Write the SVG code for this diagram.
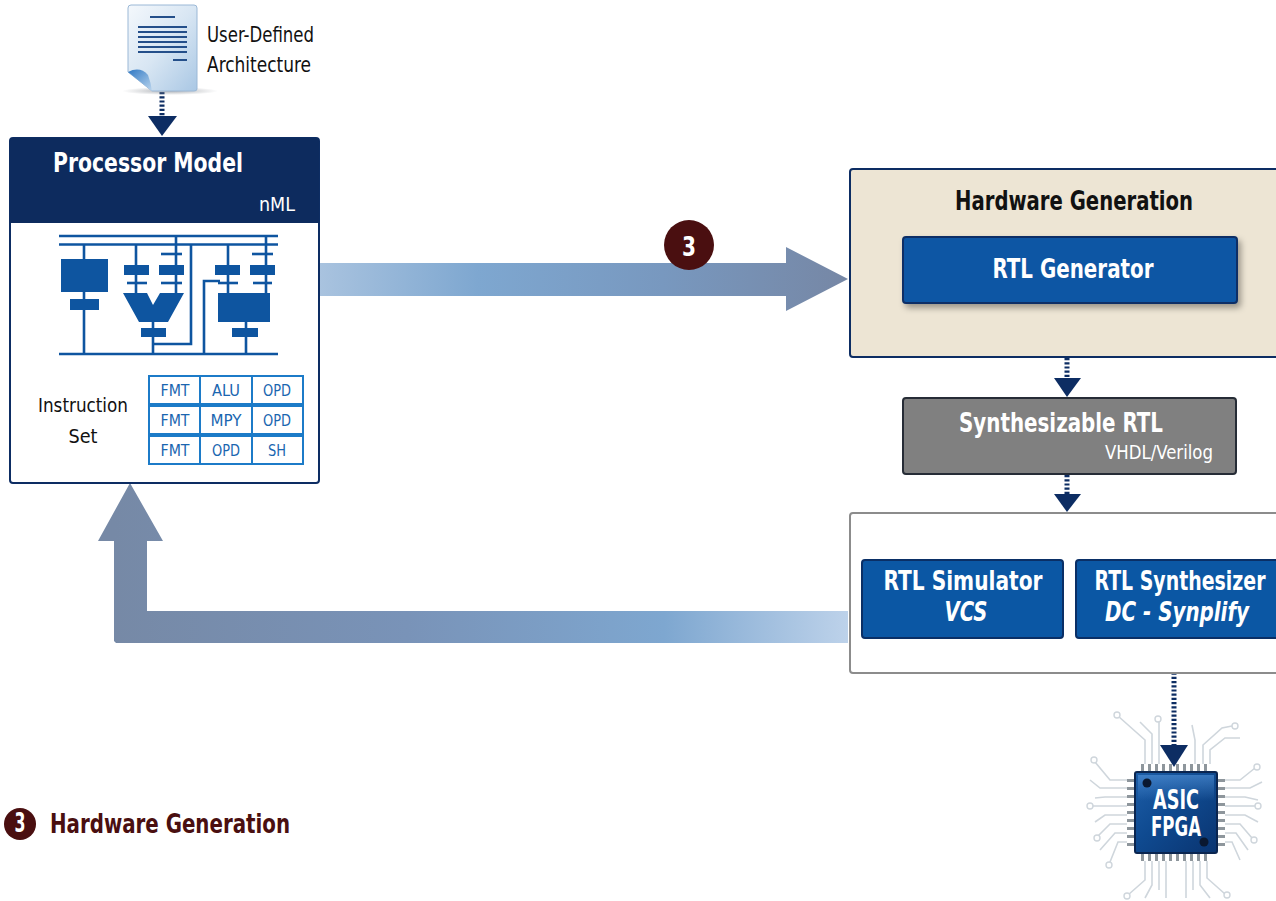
<svg xmlns="http://www.w3.org/2000/svg" width="1276" height="901" viewBox="0 0 1276 901">
  <style>
    .cond { font-family: "Liberation Sans Narrow", "DejaVu Sans Condensed", "Liberation Sans", sans-serif; }
    .title { font-family: "Liberation Sans Narrow", "DejaVu Sans Condensed", "Liberation Sans", sans-serif; font-weight: bold; font-size: 27px; }
    .white { fill: #ffffff; }
    .blk { fill: #111111; }
    .blue-box { fill: #0b57a4; stroke: #0a2f66; stroke-width: 2; }
    .circ { fill: #0e55a0; }
    .cw { stroke: #0e55a0; stroke-width: 2.6; fill: none; }
    .iset { fill: #ffffff; stroke: #1c7bc8; stroke-width: 2; }
    .isetT { font-family: "Liberation Sans Narrow", "DejaVu Sans Condensed", "Liberation Sans", sans-serif; font-size: 16px; fill: #1a66b0; text-anchor: middle; }
    .dots { stroke: #0d2d63; stroke-width: 5; stroke-dasharray: 2.2 2; fill: none; }
    .head { fill: #0d2d63; }
    .trace { stroke: #cfd6dc; stroke-width: 1.6; fill: none; }
    .tdot { fill: #ffffff; stroke: #cfd6dc; stroke-width: 1.4; }
    .pin { fill: #8e969c; }
  </style>
  <defs>
    <linearGradient id="fwdGrad" gradientUnits="userSpaceOnUse" x1="319" y1="0" x2="848" y2="0">
      <stop offset="0" stop-color="#a9c3df"/>
      <stop offset="0.3" stop-color="#7ea7d0"/>
      <stop offset="0.65" stop-color="#7898bf"/>
      <stop offset="1" stop-color="#7687a5"/>
    </linearGradient>
    <linearGradient id="backGrad" gradientUnits="userSpaceOnUse" x1="848" y1="0" x2="114" y2="0">
      <stop offset="0" stop-color="#bdd2ea"/>
      <stop offset="0.25" stop-color="#7ea7d0"/>
      <stop offset="0.6" stop-color="#7993b8"/>
      <stop offset="1" stop-color="#7689a6"/>
    </linearGradient>
    <linearGradient id="pageGrad" x1="0" y1="0" x2="1" y2="1">
      <stop offset="0" stop-color="#f4f8fc"/>
      <stop offset="0.5" stop-color="#d8e6f3"/>
      <stop offset="1" stop-color="#a9c7e4"/>
    </linearGradient>
    <linearGradient id="foldGrad" x1="0" y1="0" x2="1" y2="1">
      <stop offset="0" stop-color="#2f78c4"/>
      <stop offset="1" stop-color="#bcd6ee"/>
    </linearGradient>
    <radialGradient id="pageShadow" cx="0.5" cy="0.5" r="0.5">
      <stop offset="0" stop-color="#8a8f96" stop-opacity="0.7"/>
      <stop offset="1" stop-color="#8a8f96" stop-opacity="0"/>
    </radialGradient>
    <linearGradient id="chipGrad" x1="0" y1="0" x2="1" y2="1">
      <stop offset="0" stop-color="#1d5ea8"/>
      <stop offset="0.45" stop-color="#0f4a90"/>
      <stop offset="1" stop-color="#0a3470"/>
    </linearGradient>
    <linearGradient id="chipGloss" x1="0" y1="0" x2="0" y2="1">
      <stop offset="0" stop-color="#5a9ae0" stop-opacity="0.55"/>
      <stop offset="1" stop-color="#5a9ae0" stop-opacity="0"/>
    </linearGradient>
    <filter id="shadow" x="-10%" y="-20%" width="125%" height="160%">
      <feDropShadow dx="3" dy="4" stdDeviation="3" flood-color="#000000" flood-opacity="0.35"/>
    </filter>
  </defs>

  <rect width="1276" height="901" fill="#ffffff"/>

  <!-- connectors -->
  <g id="connectors">
    <!-- architecture spec into processor model -->
    <line class="dots" x1="162" y1="92" x2="162" y2="116"/>
    <polygon class="head" points="148,116 177,116 162,136"/>
    <!-- forward flow: processor model to hardware generation -->
    <polygon fill="url(#fwdGrad)" points="319,263 786,263 786,247 848,279 786,311 786,296 319,296"/>
    <!-- hardware generation to synthesizable RTL -->
    <line class="dots" x1="1067" y1="358" x2="1067" y2="378"/>
    <polygon class="head" points="1054,378 1081,378 1067,397"/>
    <!-- synthesizable RTL to tools -->
    <line class="dots" x1="1067" y1="475" x2="1067" y2="494"/>
    <polygon class="head" points="1054,494 1081,494 1067,512"/>
    <!-- synthesizer to silicon -->
    <line class="dots" x1="1174" y1="639" x2="1174" y2="746"/>
    <polygon class="head" points="1160,745 1188,745 1174,767"/>
    <!-- feedback loop back to processor model -->
    <polygon fill="url(#backGrad)" points="848,611 147,611 147,541 163,541 130,483 98,541 114,541 114,641 116,643 848,643"/>
  </g>

  <!-- user-defined architecture document -->
  <g id="doc">
    <ellipse cx="170" cy="91" rx="48" ry="4" fill="url(#pageShadow)"/>
    <path d="M131,5 H194 Q197,5 197,8 V89 Q197,91 194,91 H152 L128,72 V8 Q128,5 131,5 Z" fill="url(#pageGrad)" stroke="#9bb8d6" stroke-width="1"/>
    <path d="M128,72 Q140,66 148,75 Q151,83 152,91 Z" fill="url(#foldGrad)"/>
    <g stroke="#244f8a" stroke-width="2">
      <line x1="150" y1="17" x2="175" y2="17"/>
      <line x1="138" y1="27" x2="187" y2="27"/>
      <line x1="138" y1="32" x2="187" y2="32"/>
      <line x1="138" y1="37" x2="187" y2="37"/>
      <line x1="138" y1="42" x2="187" y2="42"/>
      <line x1="138" y1="47" x2="187" y2="47"/>
      <line x1="138" y1="52" x2="187" y2="52"/>
      <line x1="173" y1="60" x2="187" y2="60"/>
    </g>
    <text class="cond blk" x="207" y="42" font-size="21" textLength="107" lengthAdjust="spacingAndGlyphs">User-Defined</text>
    <text class="cond blk" x="207" y="72" font-size="21" textLength="104" lengthAdjust="spacingAndGlyphs">Architecture</text>
  </g>

  <!-- processor model -->
  <g id="processor-model">
    <rect x="10" y="138" width="309" height="345" rx="3" fill="#ffffff" stroke="#0d2d63" stroke-width="2"/>
    <path d="M10,141 Q10,138 13,138 H316 Q319,138 319,141 V223 H10 Z" fill="#0d2b5e"/>
    <text class="title white" x="148" y="172" text-anchor="middle" textLength="190" lengthAdjust="spacingAndGlyphs">Processor Model</text>
    <text class="cond white" x="295" y="211" font-size="19" text-anchor="end" textLength="36" lengthAdjust="spacingAndGlyphs">nML</text>

    <!-- datapath sketch -->
    <g id="datapath">
      <line class="cw" x1="59" y1="236" x2="278" y2="236"/>
      <line class="cw" x1="59" y1="244.5" x2="278" y2="244.5"/>
      <line class="cw" x1="59" y1="354" x2="278" y2="354"/>
      <!-- register file -->
      <line class="cw" x1="84" y1="244" x2="84" y2="354"/>
      <rect class="circ" x="61" y="259" width="47" height="33"/>
      <rect class="circ" x="70" y="299" width="29" height="11"/>
      <!-- ALU -->
      <line class="cw" x1="136" y1="244" x2="136" y2="295"/>
      <line class="cw" x1="176" y1="236" x2="176" y2="295"/>
      <line class="cw" x1="161" y1="254" x2="182" y2="254"/>
      <line class="cw" x1="127" y1="283" x2="147" y2="283"/>
      <line class="cw" x1="161" y1="283" x2="182" y2="283"/>
      <rect class="circ" x="124" y="265" width="25" height="10"/>
      <rect class="circ" x="159" y="265" width="25" height="10"/>
      <polygon class="circ" points="123,293 147,293 153,305 160,293 184,293 168,322 139,322"/>
      <line class="cw" x1="153" y1="322" x2="153" y2="354"/>
      <rect class="circ" x="141" y="328" width="25" height="9"/>
      <polyline class="cw" points="191,244 191,344 153,344"/>
      <!-- multiplier -->
      <polyline class="cw" points="204,354 204,281 220,281"/>
      <line class="cw" x1="228" y1="244" x2="228" y2="295"/>
      <line class="cw" x1="266" y1="236" x2="266" y2="295"/>
      <line class="cw" x1="252" y1="254" x2="273" y2="254"/>
      <line class="cw" x1="218" y1="283" x2="238" y2="283"/>
      <line class="cw" x1="253" y1="283" x2="272" y2="283"/>
      <rect class="circ" x="215" y="265" width="25" height="10"/>
      <rect class="circ" x="250" y="265" width="25" height="10"/>
      <rect class="circ" x="218" y="293" width="52" height="29"/>
      <line class="cw" x1="246" y1="322" x2="246" y2="354"/>
      <rect class="circ" x="232" y="328" width="26" height="9"/>
    </g>

    <text class="cond blk" x="83" y="412" font-size="20" text-anchor="middle" textLength="90" lengthAdjust="spacingAndGlyphs">Instruction</text>
    <text class="cond blk" x="83" y="443" font-size="20" text-anchor="middle" textLength="29" lengthAdjust="spacingAndGlyphs">Set</text>

    <!-- instruction set table -->
    <g id="instruction-set">
      <rect class="iset" x="149" y="376" width="51" height="28"/>
      <rect class="iset" x="200" y="376" width="52" height="28"/>
      <rect class="iset" x="252" y="376" width="51" height="28"/>
      <rect class="iset" x="149" y="406" width="51" height="28"/>
      <rect class="iset" x="200" y="406" width="52" height="28"/>
      <rect class="iset" x="252" y="406" width="51" height="28"/>
      <rect class="iset" x="149" y="436" width="51" height="28"/>
      <rect class="iset" x="200" y="436" width="52" height="28"/>
      <rect class="iset" x="252" y="436" width="51" height="28"/>
      <text class="isetT" x="175" y="396" textLength="29" lengthAdjust="spacingAndGlyphs">FMT</text>
      <text class="isetT" x="226" y="396" textLength="28" lengthAdjust="spacingAndGlyphs">ALU</text>
      <text class="isetT" x="277" y="396" textLength="28" lengthAdjust="spacingAndGlyphs">OPD</text>
      <text class="isetT" x="175" y="426" textLength="29" lengthAdjust="spacingAndGlyphs">FMT</text>
      <text class="isetT" x="226" y="426" textLength="31" lengthAdjust="spacingAndGlyphs">MPY</text>
      <text class="isetT" x="277" y="426" textLength="28" lengthAdjust="spacingAndGlyphs">OPD</text>
      <text class="isetT" x="175" y="456" textLength="29" lengthAdjust="spacingAndGlyphs">FMT</text>
      <text class="isetT" x="226" y="456" textLength="28" lengthAdjust="spacingAndGlyphs">OPD</text>
      <text class="isetT" x="277" y="456" textLength="18" lengthAdjust="spacingAndGlyphs">SH</text>
    </g>
  </g>

  <!-- step marker on forward arrow -->
  <g id="step-marker">
    <circle cx="689" cy="245" r="25" fill="#4a0f10"/>
    <text class="title white" x="689" y="256" text-anchor="middle" font-size="28" textLength="14" lengthAdjust="spacingAndGlyphs">3</text>
  </g>

  <!-- hardware generation -->
  <g id="hardware-generation">
    <rect x="850" y="169" width="440" height="188" rx="3" fill="#ede5d4" stroke="#0d2d63" stroke-width="2"/>
    <text class="title blk" x="1074" y="210" text-anchor="middle" textLength="238" lengthAdjust="spacingAndGlyphs">Hardware Generation</text>
  </g>
  <g id="rtl-generator">
    <rect class="blue-box" x="903" y="237" width="334" height="66" rx="3" filter="url(#shadow)"/>
    <text class="title white" x="1073" y="278" text-anchor="middle" textLength="161" lengthAdjust="spacingAndGlyphs">RTL Generator</text>
  </g>

  <!-- synthesizable RTL -->
  <g id="synthesizable-rtl">
    <rect x="903" y="398" width="333" height="76" rx="3" fill="#808080" stroke="#262c36" stroke-width="2"/>
    <text class="title white" x="1061" y="432" text-anchor="middle" textLength="204" lengthAdjust="spacingAndGlyphs">Synthesizable RTL</text>
    <text class="cond white" x="1213" y="459" font-size="19" text-anchor="end" textLength="108" lengthAdjust="spacingAndGlyphs">VHDL/Verilog</text>
  </g>

  <!-- RTL tools -->
  <g id="rtl-tools">
    <rect x="850" y="513" width="440" height="160" rx="3" fill="#ffffff" stroke="#8c8c8c" stroke-width="2"/>
  </g>
  <g id="rtl-simulator">
    <rect class="blue-box" x="862" y="560" width="201" height="78" rx="3"/>
    <text class="title white" x="963" y="590" text-anchor="middle" textLength="159" lengthAdjust="spacingAndGlyphs">RTL Simulator</text>
    <text class="title white" x="966" y="621" text-anchor="middle" font-style="italic" textLength="43" lengthAdjust="spacingAndGlyphs">VCS</text>
  </g>
  <g id="rtl-synthesizer">
    <rect class="blue-box" x="1076" y="560" width="214" height="78" rx="3"/>
    <text class="title white" x="1180" y="590" text-anchor="middle" textLength="171" lengthAdjust="spacingAndGlyphs">RTL Synthesizer</text>
    <text class="title white" x="1177" y="621" text-anchor="middle" font-style="italic" textLength="144" lengthAdjust="spacingAndGlyphs">DC - Synplify</text>
  </g>

  <!-- target silicon -->
  <g id="asic-fpga">
    <g id="chip-traces">
      <polyline class="trace" points="1145,764 1145,740 1118,716"/><circle class="tdot" cx="1117" cy="715" r="3"/>
      <polyline class="trace" points="1152,764 1152,734 1140,722"/>
      <polyline class="trace" points="1159,764 1159,722 1158,720"/><circle class="tdot" cx="1158" cy="719" r="3"/>
      <polyline class="trace" points="1195,764 1195,740 1192,725"/>
      <polyline class="trace" points="1203,764 1203,745 1222,728 1232,726"/><circle class="tdot" cx="1235" cy="726" r="3"/>
      <polyline class="trace" points="1210,764 1210,750 1225,738 1240,738"/>
      <polyline class="trace" points="1127,780 1110,780 1095,762"/><circle class="tdot" cx="1094" cy="760" r="3"/>
      <polyline class="trace" points="1127,788 1100,788 1090,780"/>
      <polyline class="trace" points="1127,797 1105,797 1095,798"/>
      <polyline class="trace" points="1127,806 1092,806"/><circle class="tdot" cx="1090" cy="806" r="3"/>
      <polyline class="trace" points="1127,815 1105,815 1095,822"/>
      <polyline class="trace" points="1127,824 1110,824 1098,836"/><circle class="tdot" cx="1097" cy="838" r="3"/>
      <polyline class="trace" points="1127,833 1115,833 1100,850"/>
      <polyline class="trace" points="1127,842 1118,842 1110,862"/><circle class="tdot" cx="1109" cy="865" r="3"/>
      <polyline class="trace" points="1225,780 1240,780 1255,768"/><circle class="tdot" cx="1257" cy="767" r="3"/>
      <polyline class="trace" points="1225,788 1250,788 1262,782"/>
      <polyline class="trace" points="1225,797 1245,797 1258,800"/>
      <polyline class="trace" points="1225,806 1255,806"/><circle class="tdot" cx="1258" cy="806" r="3"/>
      <polyline class="trace" points="1225,815 1245,815 1258,822"/>
      <polyline class="trace" points="1225,824 1240,824 1252,838"/><circle class="tdot" cx="1254" cy="840" r="3"/>
      <polyline class="trace" points="1225,833 1236,833 1248,850"/>
      <polyline class="trace" points="1225,842 1232,842 1240,860"/>
      <polyline class="trace" points="1145,861 1145,880 1128,895"/><circle class="tdot" cx="1127" cy="896" r="3"/>
      <polyline class="trace" points="1152,861 1152,885 1145,898"/>
      <polyline class="trace" points="1159,861 1159,890"/>
      <polyline class="trace" points="1166,861 1166,898"/>
      <polyline class="trace" points="1186,861 1186,898"/>
      <polyline class="trace" points="1193,861 1193,890"/>
      <polyline class="trace" points="1200,861 1200,885 1210,898"/>
      <polyline class="trace" points="1207,861 1207,878 1225,894"/><circle class="tdot" cx="1227" cy="895" r="3"/>
    </g>
    <g id="chip-pins">
      <rect class="pin" x="1141" y="764" width="3" height="8"/><rect class="pin" x="1148" y="764" width="3" height="8"/>
      <rect class="pin" x="1155" y="764" width="3" height="8"/><rect class="pin" x="1162" y="764" width="3" height="8"/>
      <rect class="pin" x="1169" y="764" width="3" height="8"/><rect class="pin" x="1176" y="764" width="3" height="8"/>
      <rect class="pin" x="1183" y="764" width="3" height="8"/><rect class="pin" x="1190" y="764" width="3" height="8"/>
      <rect class="pin" x="1197" y="764" width="3" height="8"/><rect class="pin" x="1204" y="764" width="3" height="8"/>
      <rect class="pin" x="1141" y="853" width="3" height="8"/><rect class="pin" x="1148" y="853" width="3" height="8"/>
      <rect class="pin" x="1155" y="853" width="3" height="8"/><rect class="pin" x="1162" y="853" width="3" height="8"/>
      <rect class="pin" x="1169" y="853" width="3" height="8"/><rect class="pin" x="1176" y="853" width="3" height="8"/>
      <rect class="pin" x="1183" y="853" width="3" height="8"/><rect class="pin" x="1190" y="853" width="3" height="8"/>
      <rect class="pin" x="1197" y="853" width="3" height="8"/><rect class="pin" x="1204" y="853" width="3" height="8"/>
      <rect class="pin" x="1127" y="779" width="8" height="3"/><rect class="pin" x="1127" y="787" width="8" height="3"/>
      <rect class="pin" x="1127" y="795" width="8" height="3"/><rect class="pin" x="1127" y="803" width="8" height="3"/>
      <rect class="pin" x="1127" y="811" width="8" height="3"/><rect class="pin" x="1127" y="819" width="8" height="3"/>
      <rect class="pin" x="1127" y="827" width="8" height="3"/><rect class="pin" x="1127" y="835" width="8" height="3"/>
      <rect class="pin" x="1127" y="843" width="8" height="3"/>
      <rect class="pin" x="1217" y="779" width="8" height="3"/><rect class="pin" x="1217" y="787" width="8" height="3"/>
      <rect class="pin" x="1217" y="795" width="8" height="3"/><rect class="pin" x="1217" y="803" width="8" height="3"/>
      <rect class="pin" x="1217" y="811" width="8" height="3"/><rect class="pin" x="1217" y="819" width="8" height="3"/>
      <rect class="pin" x="1217" y="827" width="8" height="3"/><rect class="pin" x="1217" y="835" width="8" height="3"/>
      <rect class="pin" x="1217" y="843" width="8" height="3"/>
    </g>
    <rect x="1135" y="772" width="82" height="81" rx="2" fill="url(#chipGrad)" stroke="#0a2550" stroke-width="2"/>
    <rect x="1138" y="775" width="76" height="26" fill="url(#chipGloss)"/>
    <circle cx="1147" cy="783" r="4.5" fill="#0a1830"/>
    <circle cx="1204" cy="842" r="4.5" fill="#0a1830"/>
    <text class="title white" x="1176" y="809" text-anchor="middle" font-size="20" textLength="46" lengthAdjust="spacingAndGlyphs">ASIC</text>
    <text class="title white" x="1176" y="836" text-anchor="middle" font-size="20" textLength="50" lengthAdjust="spacingAndGlyphs">FPGA</text>
  </g>

  <!-- legend -->
  <g id="legend">
    <circle cx="20" cy="824" r="16" fill="#4a0f10"/>
    <text class="title white" x="20" y="832" text-anchor="middle" font-size="21" textLength="11" lengthAdjust="spacingAndGlyphs">3</text>
    <text class="title" x="50" y="833" fill="#4a0f10" textLength="240" lengthAdjust="spacingAndGlyphs">Hardware Generation</text>
  </g>
</svg>
